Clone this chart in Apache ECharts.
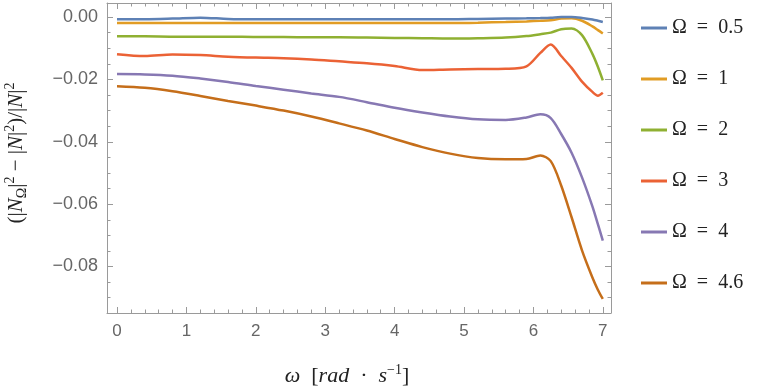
<!DOCTYPE html>
<html><head><meta charset="utf-8">
<script src="https://cdn.jsdelivr.net/npm/echarts@6/dist/echarts.min.js"></script>
<style>html,body{margin:0;padding:0;background:#fff}#c{width:764px;height:389px}</style>
</head><body><div id="c"></div>
<script>
const omega = [0,0.4,0.8,1.2,1.6,2.0,2.4,2.8,3.2,3.6,4.0,4.4,4.8,5.2,5.6,5.9,6.1,6.25,6.4,6.55,6.7,6.85,6.93,7.0];
const om05 = [-0.0007,-0.0007,-0.0005,-0.0002,-0.0006,-0.0007,-0.0007,-0.0007,-0.0007,-0.0007,-0.0007,-0.0007,-0.0007,-0.0006,-0.0005,-0.0004,-0.0003,-0.0002,0.0000,0.0000,-0.0003,-0.0008,-0.0012,-0.0016];
const om1 = [-0.0019,-0.0019,-0.0019,-0.0019,-0.0019,-0.0019,-0.0019,-0.0019,-0.0019,-0.0019,-0.0019,-0.0019,-0.0019,-0.0018,-0.0016,-0.0014,-0.0012,-0.0010,-0.0005,-0.0004,-0.0012,-0.0030,-0.0042,-0.0053];
const om2 = [-0.0062,-0.0062,-0.0063,-0.0063,-0.0063,-0.0064,-0.0064,-0.0065,-0.0065,-0.0066,-0.0067,-0.0068,-0.0069,-0.0068,-0.0066,-0.0061,-0.0055,-0.0050,-0.0039,-0.0037,-0.0058,-0.0118,-0.0160,-0.0203];
const om3 = [-0.0119,-0.0125,-0.0120,-0.0122,-0.0127,-0.0130,-0.0132,-0.0136,-0.0142,-0.0148,-0.0157,-0.0170,-0.0168,-0.0167,-0.0166,-0.0158,-0.0115,-0.0088,-0.0125,-0.0163,-0.0207,-0.0240,-0.0252,-0.0243];
const om4 = [-0.0183,-0.0184,-0.0188,-0.0197,-0.0208,-0.0221,-0.0233,-0.0245,-0.0256,-0.0273,-0.0291,-0.0306,-0.0319,-0.0328,-0.0330,-0.0322,-0.0312,-0.0324,-0.0375,-0.0435,-0.0514,-0.0607,-0.0665,-0.0717];
const om46 = [-0.0222,-0.0227,-0.0238,-0.0253,-0.0269,-0.0284,-0.0300,-0.0319,-0.0341,-0.0364,-0.0391,-0.0417,-0.0438,-0.0452,-0.0456,-0.0455,-0.0444,-0.0462,-0.0540,-0.0642,-0.0748,-0.0835,-0.0875,-0.0904];
const seriesNames = ['Ω = 0.5','Ω = 1','Ω = 2','Ω = 3','Ω = 4','Ω = 4.6'];
const seriesValues = [om05, om1, om2, om3, om4, om46];
const colors = ['#5E81B5','#E19C24','#8FB032','#EB6235','#8778B3','#C56E1A'];
const xTicks = [0,1,2,3,4,5,6,7];
const xMinor = [];
for (let i = 0; i <= 35; i++) { if (i % 5) xMinor.push(i / 5); }
const yTicks = [-0.08,-0.06,-0.04,-0.02,0];
const yMinor = [-0.09,-0.085,-0.075,-0.07,-0.065,-0.055,-0.05,-0.045,-0.035,-0.03,-0.025,-0.015,-0.01,-0.005];
const XMIN = -0.144, XMAX = 7.118, YMIN = -0.0949, YMAX = 0.0045;

const frame = '#9a9a9a';
const serif = 'Liberation Serif';
function xAx(pos, vals, len, main) {
  return {
    type: 'value', position: pos, min: XMIN, max: XMAX, splitLine: {show: false},
    axisLine: {show: main, onZero: false, lineStyle: {color: frame, width: 1}},
    axisTick: {show: true, inside: true, length: len, customValues: vals, lineStyle: {color: frame}},
    axisLabel: {show: false}
  };
}
function yAx(pos, vals, len, main) {
  return {
    type: 'value', position: pos, min: YMIN, max: YMAX, splitLine: {show: false},
    axisLine: {show: main, onZero: false, lineStyle: {color: frame, width: 1}},
    axisTick: {show: true, inside: true, length: len, customValues: vals, lineStyle: {color: frame}},
    axisLabel: {show: false}
  };
}
const xAxes = [xAx('bottom', xTicks, 6, true), xAx('bottom', xMinor, 3.5, false), xAx('top', xTicks, 6, true), xAx('top', xMinor, 3.5, false)];
const yAxes = [yAx('left', yTicks, 6, true), yAx('left', yMinor, 3.5, false), yAx('right', yTicks, 6, true), yAx('right', yMinor, 3.5, false)];

xAxes[0].axisLabel = {show: true, customValues: xTicks, margin: 10, color: '#666', fontSize: 17, fontFamily: 'Liberation Sans', formatter: v => String(Math.round(v))};
xAxes[0].name = '{i|ω}\u2002[{i|rad}\u2002·\u2002{i|s}{sup|−1}]';
xAxes[0].nameLocation = 'middle';
xAxes[0].nameGap = 50;
xAxes[0].nameTextStyle = {fontFamily: serif, fontSize: 22, color: '#222', lineHeight: 26, padding: [0, 24, 0, 0],
  rich: {i: {fontFamily: serif, fontStyle: 'italic', fontSize: 22, color: '#222', lineHeight: 26},
         sup: {fontFamily: serif, fontSize: 14, color: '#222', lineHeight: 14, verticalAlign: 'top'}}};

yAxes[0].axisLabel = {show: true, customValues: yTicks, margin: 9, color: '#666', fontSize: 18, fontFamily: 'Liberation Sans',
  formatter: v => { const s = Math.abs(v).toFixed(2); return (v < -1e-9 ? '\u2212' : '') + s; }};
yAxes[0].name = '(|{i|N}{sub|Ω}|{sup|2} − |{i|N}|{sup|2})/|{i|N}|{sup|2}';
yAxes[0].nameLocation = 'middle';
yAxes[0].nameGap = 78;
yAxes[0].nameTextStyle = {fontFamily: serif, fontSize: 21, color: '#222', lineHeight: 26, padding: [0, 0, 0, 10],
  rich: {i: {fontFamily: serif, fontStyle: 'italic', fontSize: 21, color: '#222', lineHeight: 26},
         sub: {fontFamily: serif, fontSize: 14, color: '#222', lineHeight: 14, verticalAlign: 'bottom'},
         sup: {fontFamily: serif, fontSize: 14, color: '#222', lineHeight: 14, verticalAlign: 'top'}}};

const series = seriesNames.map((n, k) => ({
  name: n, type: 'line', xAxisIndex: 0, yAxisIndex: 0, symbol: 'none', smooth: 0.3,
  lineStyle: {width: 2.5, color: colors[k]}, itemStyle: {color: colors[k]},
  data: omega.map((w, i) => [w, seriesValues[k][i]]), z: 10 - k
}));

const chart = echarts.init(document.getElementById('c'), null, {renderer: 'canvas'});
chart.setOption({
  animation: false,
  backgroundColor: '#fff',
  grid: {left: 107, right: 153, top: 3, bottom: 76, containLabel: false, outerBoundsMode: 'none'},
  xAxis: xAxes,
  yAxis: yAxes,
  legend: {
    orient: 'vertical', left: 636, top: 13, icon: 'rect', itemWidth: 26, itemHeight: 3,
    itemGap: 31, itemTextGap: 16,
    textStyle: {fontFamily: serif, fontSize: 20, color: '#222', lineHeight: 20},
    formatter: n => n.replace(' = ', '\u2002=\u2002'),
    data: seriesNames
  },
  series: series
});
</script></body></html>
